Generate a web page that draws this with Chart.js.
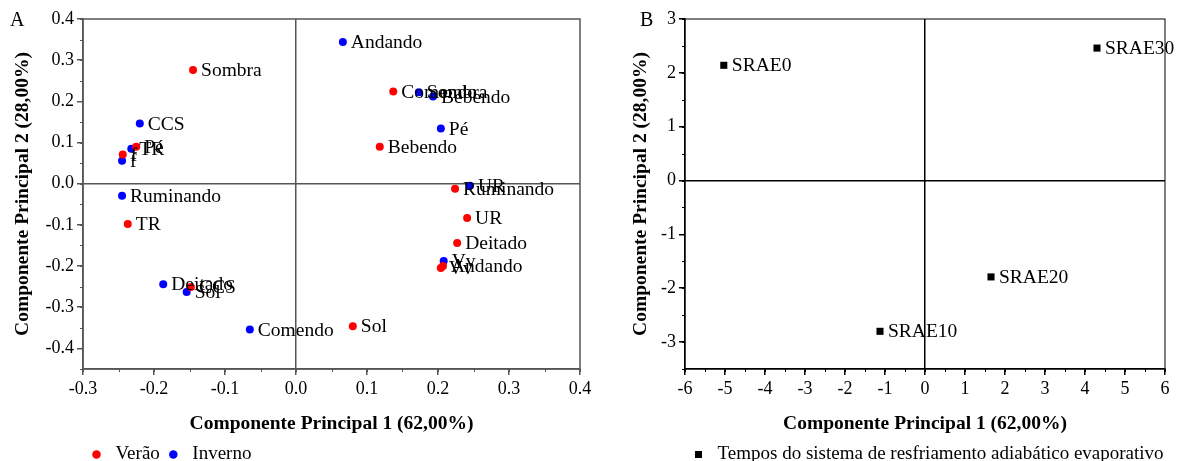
<!DOCTYPE html>
<html>
<head>
<meta charset="utf-8">
<script src="https://cdn.jsdelivr.net/npm/chart.js@4"></script>
<style>
  body { margin: 0; background: #fff; overflow: hidden; }
  canvas { position: absolute; top: 0; }
</style>
</head>
<body>
<canvas id="chartA" width="600" height="474" style="left:0"></canvas>
<canvas id="chartB" width="584" height="474" style="left:600px"></canvas>
<script>
// PCA A - variables per season
const veraoLabels = ['Sombra', 'Comendo', 'Bebendo', 'Pé', 'f', 'TR', 'Ruminando', 'UR', 'Deitado', 'Vv', 'Andando', 'CCS', 'Sol'];
const veraoX = [-0.145, 0.137, 0.118, -0.225, -0.244, -0.237, 0.224, 0.241, 0.227, 0.204, 0.207, -0.148, 0.080];
const veraoY = [0.276, 0.224, 0.090, 0.090, 0.071, -0.098, -0.012, -0.083, -0.144, -0.205, -0.200, -0.251, -0.346];

const invernoLabels = ['Andando', 'Sombra', 'Bebendo', 'Pé', 'CCS', 'TR', 'f', 'Ruminando', 'UR', 'Vv', 'Deitado', 'Sol', 'Comendo'];
const invernoX = [0.066, 0.173, 0.193, 0.204, -0.220, -0.232, -0.245, -0.245, 0.245, 0.208, -0.187, -0.154, -0.065];
const invernoY = [0.344, 0.222, 0.212, 0.134, 0.146, 0.085, 0.056, -0.029, -0.005, -0.188, -0.244, -0.263, -0.354];

// PCA B - times of the cooling system
const sraeLabels = ['SRAE0', 'SRAE10', 'SRAE20', 'SRAE30'];
const sraeX = [-5.03, -1.125, 1.65, 4.30];
const sraeY = [2.14, -2.80, -1.79, 2.46];

const toPoints = (xs, ys) => xs.map((x, i) => ({ x: x, y: ys[i] }));

Chart.defaults.font.family = "'Liberation Serif', 'Times New Roman', serif";
Chart.defaults.font.size = 18;
Chart.defaults.color = '#000';

// text next to each point + panel letter + frame + minor ticks
const pcaExtras = {
  id: 'pcaExtras',
  afterDatasetsDraw(chart, args, opts) {
    const ctx = chart.ctx;
    const area = chart.chartArea;
    ctx.save();
    ctx.font = "19.5px 'Liberation Serif'";
    ctx.fillStyle = '#000';
    ctx.textBaseline = 'middle';
    ctx.textAlign = 'left';
    chart.data.datasets.forEach((ds, i) => {
      chart.getDatasetMeta(i).data.forEach((pt, j) => {
        ctx.fillText(ds.pointNames[j], pt.x + 8, pt.y + 1);
      });
    });
    // frame
    ctx.strokeStyle = opts.frameColor;
    ctx.lineWidth = opts.frameWidth;
    ctx.strokeRect(area.left, area.top, area.right - area.left, area.bottom - area.top);
    // minor ticks
    const xs = chart.scales.x, ys = chart.scales.y;
    ctx.lineWidth = 1;
    for (let v = xs.min; v <= xs.max + 1e-9; v += opts.minorX) {
      const px = Math.round(xs.getPixelForValue(v)) + 0.5;
      ctx.beginPath();
      ctx.moveTo(px, area.bottom);
      ctx.lineTo(px, area.bottom + 3);
      ctx.stroke();
    }
    for (let v = ys.min; v <= ys.max + 1e-9; v += opts.minorY) {
      const py = Math.round(ys.getPixelForValue(v)) + 0.5;
      ctx.beginPath();
      ctx.moveTo(area.left - 3, py);
      ctx.lineTo(area.left, py);
      ctx.stroke();
    }
    // panel letter
    ctx.font = "20px 'Liberation Serif'";
    ctx.textBaseline = 'middle';
    ctx.fillText(opts.letter, opts.letterX, 21);
    ctx.restore();
  }
};

function makeScale(min, max, step, decimals, title, isY, axisColor, fit, titlePad) {
  return {
    type: 'linear',
    min: min,
    max: max,
    ticks: {
      stepSize: step,
      padding: 3,
      autoSkip: false,
      maxRotation: 0,
      callback: v => v.toFixed(decimals)
    },
    afterBuildTicks: s => {
      s.ticks = s.ticks.filter(t => Math.abs(t.value / step - Math.round(t.value / step)) < 1e-6);
    },
    afterFit: s => {
      if (isY) s.width = fit; else s.height = fit;
    },
    border: { display: true, color: axisColor, width: 1.5 },
    grid: {
      drawOnChartArea: true,
      tickLength: 6,
      tickColor: axisColor,
      lineWidth: 1.5,
      color: c => (c.tick && Math.abs(c.tick.value) < 1e-9) ? axisColor : 'transparent'
    },
    title: {
      display: true,
      text: title,
      font: { size: 19.5, weight: 'bold' },
      padding: titlePad
    }
  };
}

new Chart(document.getElementById('chartA'), {
  type: 'scatter',
  data: {
    datasets: [
      {
        label: 'Verão',
        data: toPoints(veraoX, veraoY),
        pointNames: veraoLabels,
        backgroundColor: '#ff0000',
        borderWidth: 0,
        pointRadius: 4
      },
      {
        label: 'Inverno',
        data: toPoints(invernoX, invernoY),
        pointNames: invernoLabels,
        backgroundColor: '#0000ff',
        borderWidth: 0,
        pointRadius: 4
      }
    ]
  },
  options: {
    responsive: false,
    animation: false,
    devicePixelRatio: 1,
    layout: { padding: { left: 0, top: 19, right: 20, bottom: 0 } },
    scales: {
      x: makeScale(-0.3, 0.4, 0.1, 1, 'Componente Principal 1 (62,00%)', false, '#555', 72, { top: 0, bottom: 5 }),
      y: makeScale(-0.45, 0.4, 0.1, 1, 'Componente Principal 2 (28,00%)', true, '#555', 83, { top: 11, bottom: 0 })
    },
    plugins: {
      legend: {
        position: 'bottom',
        align: 'start',
        fullSize: false,
        labels: { usePointStyle: true, pointStyle: 'circle', boxHeight: 6, padding: 4, font: { size: 19 } }
      },
      tooltip: { enabled: false },
      pcaExtras: { letter: 'A', letterX: 10, frameColor: '#555', frameWidth: 1.5, minorX: 0.05, minorY: 0.05 }
    }
  },
  plugins: [pcaExtras]
});

new Chart(document.getElementById('chartB'), {
  type: 'scatter',
  data: {
    datasets: [
      {
        label: 'Tempos do sistema de resfriamento adiabático evaporativo',
        data: toPoints(sraeX, sraeY),
        pointNames: sraeLabels,
        backgroundColor: '#000',
        borderWidth: 0,
        pointStyle: 'rect',
        pointRadius: 5
      }
    ]
  },
  options: {
    responsive: false,
    animation: false,
    devicePixelRatio: 1,
    layout: { padding: { left: 0, top: 19, right: 19, bottom: 0 } },
    scales: {
      x: makeScale(-6, 6, 1, 0, 'Componente Principal 1 (62,00%)', false, '#000', 72, { top: 0, bottom: 5 }),
      y: makeScale(-3.5, 3, 1, 0, 'Componente Principal 2 (28,00%)', true, '#000', 85, { top: 29, bottom: 0 })
    },
    plugins: {
      legend: {
        position: 'bottom',
        align: 'start',
        fullSize: false,
        labels: { usePointStyle: true, pointStyle: 'rect', boxHeight: 7, padding: 4, font: { size: 19 } }
      },
      tooltip: { enabled: false },
      pcaExtras: { letter: 'B', letterX: 40, frameColor: '#000', frameWidth: 1, minorX: 0.5, minorY: 0.5 }
    }
  },
  plugins: [pcaExtras]
});
</script>
</body>
</html>
